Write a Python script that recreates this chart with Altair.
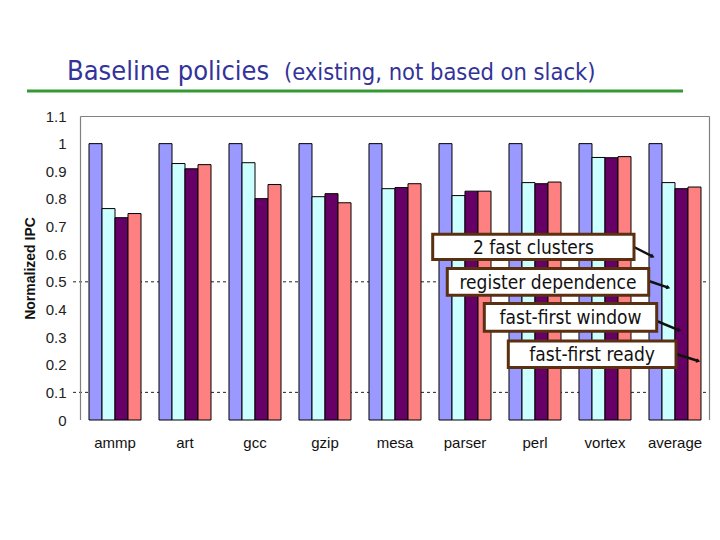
import altair as alt
import pandas as pd

# Benchmarks and normalized IPC per steering policy
benchmarks = ["ammp", "art", "gcc", "gzip", "mesa", "parser", "perl", "vortex", "average"]
policies = ["2 fast clusters", "register dependence", "fast-first window", "fast-first ready"]

fast_clusters = [1.0, 1.0, 1.0, 1.0, 1.0, 1.0, 1.0, 1.0, 1.0]
register_dep = [0.765, 0.928, 0.931, 0.808, 0.837, 0.812, 0.859, 0.950, 0.859]
ff_window = [0.732, 0.909, 0.801, 0.819, 0.841, 0.828, 0.855, 0.949, 0.837]
ff_ready = [0.747, 0.924, 0.852, 0.786, 0.855, 0.828, 0.861, 0.953, 0.843]

grid_values = [0.1, 0.5]
y_ticks = [0, 0.1, 0.2, 0.3, 0.4, 0.5, 0.6, 0.7, 0.8, 0.9, 1.0, 1.1]

colors = ["#9999FF", "#CCFFFF", "#660066", "#FF8080"]

rows = []
for series, vals in zip(policies, [fast_clusters, register_dep, ff_window, ff_ready]):
    for b, v in zip(benchmarks, vals):
        rows.append({"benchmark": b, "policy": series, "ipc": v})
df = pd.DataFrame(rows)

W, H = 630, 304
FONT = "Liberation Sans"
TFONT = "DejaVu Sans Condensed"

y_scale = alt.Scale(domain=[0, 1.1], nice=False, zero=True)
y_axis = alt.Axis(
    title="Normalized IPC", values=y_ticks, format=".1~f", grid=False,
    labelOverlap=False, labelBound=False, labelFlush=False,
    ticks=False, domain=False,
    labelFont=FONT, labelFontSize=15, labelColor="#222222", labelPadding=14,
    titleFont=FONT, titleFontSize=14, titleFontWeight="bold", titleColor="#111111",
    titleX=-43, titleY=H / 2, titleAlign="center", titleAngle=270,
)

# dotted reference lines, reaching slightly left of the axis
grid = alt.Chart(pd.DataFrame({"g": grid_values})).mark_rule(
    color="#222222", strokeWidth=1, strokeDash=[3, 3]
).encode(x=alt.value(-7), x2=alt.value(W), y=alt.Y("g:Q", scale=y_scale, axis=y_axis))

bars = alt.Chart(df).mark_bar(stroke="#000000", strokeWidth=1).encode(
    x=alt.X(
        "benchmark:N",
        sort=benchmarks,
        scale=alt.Scale(paddingInner=0.257, paddingOuter=0.1286),
        axis=alt.Axis(
            title=None, domain=False, ticks=False, labelAngle=0,
            labelFont=FONT, labelFontSize=15, labelColor="#111111", labelPadding=15,
        ),
    ),
    xOffset=alt.XOffset("policy:N", sort=policies, scale=alt.Scale(paddingInner=0, paddingOuter=0)),
    y=alt.Y("ipc:Q", scale=y_scale, axis=y_axis),
    color=alt.Color("policy:N", sort=policies, scale=alt.Scale(domain=policies, range=colors), legend=None),
)

# frame: left, top and right edges (no bottom edge)
one = pd.DataFrame({"k": [0]})
frame_left = alt.Chart(one).mark_rule(color="#808080", strokeWidth=1.2).encode(
    x=alt.value(0.5), y=alt.value(0.5), y2=alt.value(H)
)
frame_top = alt.Chart(one).mark_rule(color="#808080", strokeWidth=1.2).encode(
    x=alt.value(0.5), x2=alt.value(W - 0.5), y=alt.value(0.5)
)
frame_right = alt.Chart(one).mark_rule(color="#808080", strokeWidth=1.2).encode(
    x=alt.value(W - 0.5), y=alt.value(0.5), y2=alt.value(H)
)

# heading and green underline
heading_main = alt.Chart(pd.DataFrame({"t": ["Baseline policies"]})).mark_text(
    align="left", baseline="alphabetic", font=TFONT, fontSize=27, color="#333399"
).encode(x=alt.value(-13), y=alt.value(-36), text="t:N")
heading_sub = alt.Chart(pd.DataFrame({"t": ["(existing, not based on slack)"]})).mark_text(
    align="left", baseline="alphabetic", font=TFONT, fontSize=23.5, color="#333399"
).encode(x=alt.value(204), y=alt.value(-36), text="t:N")
underline = alt.Chart(one).mark_rule(color="#339933", strokeWidth=3).encode(
    x=alt.value(-53), x2=alt.value(603), y=alt.value(-25)
)


def callout(label, x1, x2, y1, y2, ax, ay, bx, by, angle):
    src = alt.Chart(pd.DataFrame({"label": [label]}))
    box = src.mark_rect(fill="#FFFFFF", stroke="#5A3010", strokeWidth=3).encode(
        x=alt.value(x1), x2=alt.value(x2), y=alt.value(y1), y2=alt.value(y2)
    )
    txt = src.mark_text(font=TFONT, fontSize=19, color="#111111", baseline="middle", align="center").encode(
        x=alt.value((x1 + x2) / 2), y=alt.value((y1 + y2) / 2 + 1), text="label:N"
    )
    line = src.mark_rule(color="#111111", strokeWidth=2.5).encode(
        x=alt.value(ax), x2=alt.value(bx), y=alt.value(ay), y2=alt.value(by)
    )
    head = src.mark_point(shape="triangle-right", filled=True, size=22, color="#111111", angle=angle, opacity=1).encode(
        x=alt.value(bx), y=alt.value(by)
    )
    return [line, head, box, txt]


callouts = []
callouts += callout(policies[0], 352.7, 554, 118.3, 143.6, 554, 131, 572.7, 140.5, 26)
callouts += callout(policies[1], 367.3, 568.7, 152.6, 179.3, 568.7, 165, 588.3, 171.6, 19)
callouts += callout(policies[2], 404.3, 576.7, 187.6, 215.3, 576.7, 205, 599.3, 214.3, 22)
callouts += callout(policies[3], 428.3, 596, 225, 251.6, 596, 238, 618.3, 245, 17)

chart = alt.layer(
    grid, bars, frame_left, frame_top, frame_right, heading_main, heading_sub, underline, *callouts
).properties(
    width=W,
    height=H,
    autosize="none",
    padding={"left": 80, "top": 116, "right": 10, "bottom": 120},
    background="#FFFFFF",
).configure_view(stroke=None)

chart.save("out.html", embed_options={"renderer": "svg", "actions": False})
